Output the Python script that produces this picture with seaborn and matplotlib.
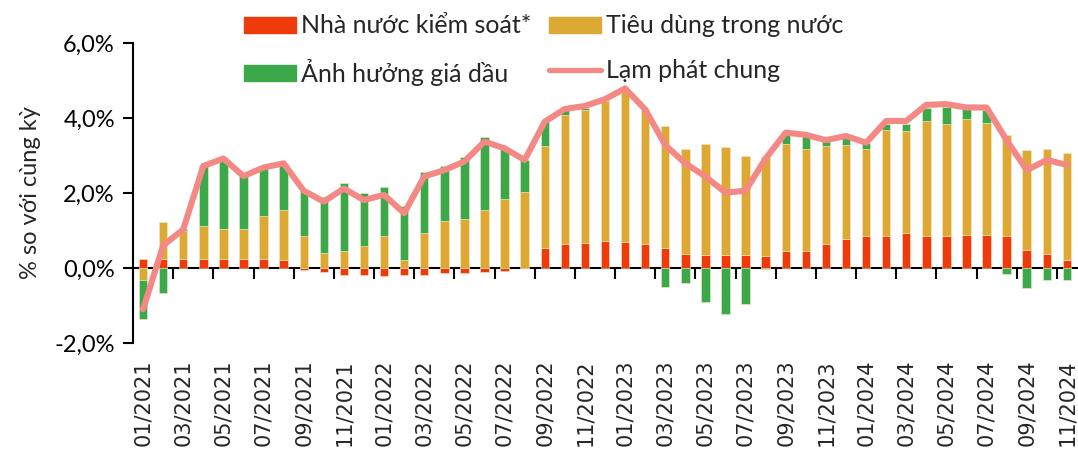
import numpy as np
import pandas as pd
import matplotlib
matplotlib.use("Agg")
import matplotlib.pyplot as plt
import seaborn as sns
from matplotlib.patches import Patch
from matplotlib.lines import Line2D

# months 01/2021 .. 11/2024
months = [f"{m:02d}/{y}" for y in range(2021, 2025) for m in range(1, 13)][:47]

# contributions, % yoy
state_controlled = [0.25, 0.23, 0.23, 0.23, 0.23, 0.23, 0.23, 0.22, -0.05, -0.12,
                    -0.18, -0.20, -0.22, -0.20, -0.19, -0.14, -0.13, -0.12, -0.08, 0.0,
                    0.52, 0.65, 0.66, 0.71, 0.70, 0.63, 0.52, 0.37, 0.35, 0.35,
                    0.35, 0.32, 0.44, 0.44, 0.65, 0.77, 0.84, 0.84, 0.92, 0.86,
                    0.86, 0.89, 0.89, 0.84, 0.49, 0.38, 0.22]
domestic_demand = [-0.32, 1.00, 0.76, 0.89, 0.80, 0.80, 1.16, 1.32, 0.85, 0.39,
                   0.44, 0.59, 0.84, 0.21, 0.94, 1.24, 1.30, 1.55, 1.83, 2.03,
                   2.74, 3.42, 3.56, 3.73, 4.08, 3.60, 3.27, 2.79, 2.96, 2.87,
                   2.64, 2.63, 2.86, 2.74, 2.60, 2.51, 2.34, 2.83, 2.73, 3.07,
                   2.98, 3.08, 2.98, 2.70, 2.65, 2.80, 2.84]
oil_price = [-1.03, -0.66, 0.04, 1.60, 1.89, 1.42, 1.28, 1.24, 1.24, 1.49,
             1.83, 1.40, 1.33, 1.45, 1.63, 1.49, 1.65, 1.94, 1.37, 0.84,
             0.65, 0.14, 0.04, 0.05, 0.0, 0.0, -0.50, -0.40, -0.92, -1.23,
             -0.95, -0.02, 0.31, 0.37, 0.16, 0.18, 0.15, 0.17, 0.20, 0.33,
             0.44, 0.28, 0.35, -0.15, -0.53, -0.33, -0.33]
headline = [-1.10, 0.60, 1.03, 2.72, 2.92, 2.45, 2.68, 2.79, 2.06, 1.77,
            2.12, 1.81, 1.95, 1.46, 2.44, 2.61, 2.84, 3.37, 3.19, 2.88,
            3.90, 4.24, 4.32, 4.50, 4.79, 4.23, 3.28, 2.79, 2.44, 2.01,
            2.06, 2.92, 3.61, 3.55, 3.41, 3.52, 3.34, 3.92, 3.92, 4.35,
            4.37, 4.28, 4.28, 3.41, 2.61, 2.88, 2.75]

series_names = ["Nhà nước kiểm soát*", "Tiêu dùng trong nước", "Ảnh hưởng giá dầu"]
line_name = "Lạm phát chung"
colors = ["#EF3A0C", "#DDA933", "#3BA84A"]
line_color = "#F38885"

sns.set_theme(style="ticks")
plt.rcParams["font.family"] = ["Lato", "DejaVu Sans"]

fig = plt.figure(figsize=(10.78, 4.55), dpi=100)
ax = fig.add_axes([0.1234, 0.2462, 0.8756, 0.6593])

# stacked bars, positives and negatives stacked separately
pos_base = np.zeros(len(months))
neg_base = np.zeros(len(months))
for vals, col in zip([state_controlled, domestic_demand, oil_price], colors):
    vals = np.array(vals)
    bottom = np.where(vals >= 0, pos_base, neg_base)
    df = pd.DataFrame({"month": months, "value": vals})
    sns.barplot(data=df, x="month", y="value", color=col, width=0.42,
                bottom=bottom, saturation=1, edgecolor="#f6e7c8", linewidth=0.4,
                ax=ax, zorder=2)
    pos_base = pos_base + np.where(vals >= 0, vals, 0)
    neg_base = neg_base + np.where(vals < 0, vals, 0)

sns.lineplot(x=np.arange(len(months)), y=headline, color=line_color, lw=4.4,
             ax=ax, zorder=3, solid_joinstyle="round", solid_capstyle="round")

ax.set_xlim(-0.5, len(months) - 0.5)
ax.set_ylim(-2, 6)
ax.set_yticks([-2, 0, 2, 4, 6])
ax.set_yticklabels([f"{v:.1f}%".replace(".", ",") for v in [-2, 0, 2, 4, 6]],
                   fontsize=17)
ax.set_xticks(np.arange(0, len(months), 2))
ax.set_xticklabels(months[::2], rotation=90, fontsize=15, family="DejaVu Sans")
ax.tick_params(axis="x", length=0, pad=12)
ax.tick_params(axis="y", direction="out", length=7, width=1.5, colors="black", pad=6)
ax.set_xlabel("")
ax.set_ylabel("% so với cùng kỳ", fontsize=17, labelpad=10)

for s in ["top", "right", "bottom"]:
    ax.spines[s].set_visible(False)
ax.spines["left"].set_linewidth(1.5)
ax.spines["left"].set_color("black")

# zero line with tick marks between bars
sec = ax.secondary_xaxis(0.25)
sec.set_xticks(np.arange(-0.5, len(months), 2))
sec.set_xticklabels([])
sec.tick_params(direction="out", length=8, width=1.5, colors="black")
sec.spines["bottom"].set_linewidth(1.5)
sec.spines["bottom"].set_color("black")

handles = [Patch(color=colors[0], label=series_names[0]),
           Patch(color=colors[2], label=series_names[2]),
           Patch(color=colors[1], label=series_names[1]),
           Line2D([], [], color=line_color, lw=3.8, label=line_name)]
fig.legend(handles=handles, ncol=2, loc="upper left",
           bbox_to_anchor=(0.210, 1.0066), frameon=False, fontsize=18,
           handlelength=2.08, handleheight=0.6, handletextpad=0.2,
           columnspacing=0.7, labelspacing=0.87, borderpad=0.2)

fig.savefig("out.png", dpi=100)
